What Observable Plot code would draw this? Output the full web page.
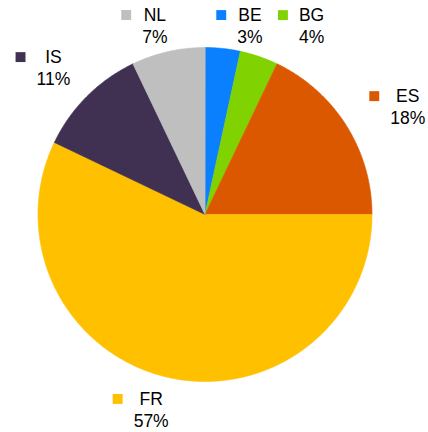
<!DOCTYPE html>
<html>
<head>
<meta charset="utf-8">
<script src="https://cdn.jsdelivr.net/npm/d3@7"></script>
<script src="https://cdn.jsdelivr.net/npm/@observablehq/plot@0.6"></script>
<style>
  html, body { margin: 0; padding: 0; background: #fff; }
</style>
</head>
<body>
<div id="chart"></div>
<script>
// ---- data ----
const categories = ["BE", "BG", "ES", "FR", "IS", "NL"];
const shares = [3.4, 3.7, 17.9, 57.1, 10.8, 7.1];          // percent
const shareLabels = ["3%", "4%", "18%", "57%", "11%", "7%"];
const colors = ["#0A80FF", "#80D200", "#DB5800", "#FFC000", "#403152", "#BFBFBF"];

// ---- layout constants (label placement in polar terms: degrees clockwise from 12 o'clock, radius multiple) ----
const labelPlacement = {
  BE: [13.4, 1.16], BG: [29.5, 1.296], ES: [62.1, 1.374],
  FR: [195.4, 1.214], IS: [314.0, 1.262], NL: [345.1, 1.168]
};
const W = 428, H = 432, R = 167, CX = 204.5, CY = 214;
const FONT = 17.5, LINE = 22;

// ---- derived geometry ----
const total = d3.sum(shares);
let acc = 0;
const slices = categories.map((c, i) => {
  const a0 = acc / total * 2 * Math.PI;
  acc += shares[i];
  const a1 = acc / total * 2 * Math.PI;
  return {key: c, a0, a1, label: shareLabels[i]};
});
const polyPts = [];
for (const s of slices) {
  const n = Math.max(2, Math.ceil((s.a1 - s.a0) / 0.01));
  polyPts.push({key: s.key, x: 0, y: 0});
  for (let k = 0; k <= n; k++) {
    const a = s.a0 + (s.a1 - s.a0) * k / n;
    polyPts.push({key: s.key, x: Math.sin(a), y: Math.cos(a)});
  }
}

// text width measurement for placing the legend keys
const ctx = document.createElement("canvas").getContext("2d");
ctx.font = `${FONT}px "Liberation Sans", Arial, sans-serif`;

const labels = slices.map(s => {
  const [deg, rr] = labelPlacement[s.key];
  const a = deg * Math.PI / 180;
  return {key: s.key, label: s.label, x: rr * Math.sin(a), y: rr * Math.cos(a),
          w: ctx.measureText(s.label).width};
});

const chart = Plot.plot({
  width: W,
  height: H,
  margin: 0,
  style: {fontFamily: '"Liberation Sans", Arial, sans-serif', background: "#fff"},
  x: {domain: [-CX / R, (W - CX) / R], range: [0, W], axis: null},
  y: {domain: [-(H - CY) / R, CY / R], range: [H, 0], axis: null},
  color: {domain: categories, range: colors},
  marks: [
    Plot.line(polyPts, {x: "x", y: "y", z: "key", fill: "key", stroke: "key",
                        strokeWidth: 0.6, curve: "linear-closed"}),
    // category names (first line)
    Plot.text(labels, {x: "x", y: "y", text: "key", dy: -LINE / 2,
                       fontSize: FONT, fill: "#000", textAnchor: "middle", lineAnchor: "middle"}),
    // percentages (second line)
    Plot.text(labels, {x: "x", y: "y", text: "label", dy: LINE / 2,
                       fontSize: FONT, fill: "#000", textAnchor: "middle", lineAnchor: "middle"}),
    // legend key squares
    Plot.dot(labels, {x: "x", y: "y", symbol: "square", r: 5.6, fill: "key", stroke: null,
                      dy: -LINE / 2,
                      render: (index, scales, values, dims, context, next) => {
                        const g = next(index, scales, values, dims, context);
                        d3.select(g).selectAll("path").each(function(_, j) {
                          const i = index[j];
                          const dx = -labels[i].w / 2 - 16;
                          const t = d3.select(this).attr("transform");
                          d3.select(this).attr("transform", t + ` translate(${dx},0)`);
                        });
                        return g;
                      }})
  ]
});
document.getElementById("chart").appendChild(chart);
</script>
</body>
</html>
